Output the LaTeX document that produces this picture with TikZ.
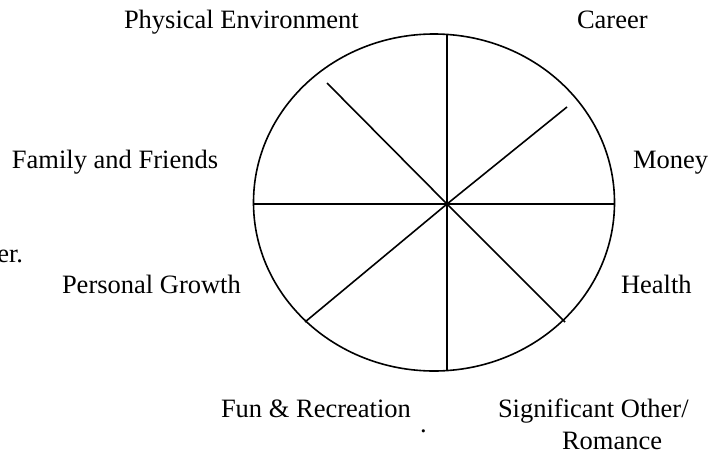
\documentclass[tikz,border=0pt]{standalone}
\usepackage{fontspec}
\setmainfont{Liberation Serif}
\begin{document}
\begin{tikzpicture}[x=1pt,y=-1pt,
  lbl/.style={anchor=base west,inner sep=0pt,outer sep=0pt,font=\fontsize{26.5}{30}\selectfont},
  wline/.style={line width=1.6pt,black}]
\useasboundingbox (0,0) rectangle (723,455);
% wheel
\draw[wline] (434,202.5) ellipse [x radius=180.5,y radius=168.5];
\coordinate (c) at (447,204);
\coordinate (top) at (447,34);
\coordinate (bot) at (447,371);
\coordinate (lft) at (254,204);
\coordinate (rgt) at (615,204);
\coordinate (ul) at (327,83);
\coordinate (ur) at (567,107);
\coordinate (ll) at (305,322);
\coordinate (lr) at (565,322);
\foreach \p in {top,bot,lft,rgt,ul,ur,ll,lr}{\draw[wline] (c) -- (\p);}
% labels
\node[lbl] (phys) at (124,28) {Physical Environment};
\node[lbl] (career) at (577,28) {Career};
\node[lbl] (family) at (12,168) {Family and Friends};
\node[lbl] (money) at (633,168) {Money};
\node[lbl,anchor=base east] (er) at (23,262) {er.};
\node[lbl] (growth) at (62,293) {Personal Growth};
\node[lbl] (health) at (621,293) {Health};
\node[lbl] (fun) at (221,417) {Fun \& Recreation};
\node[lbl] (sig) at (498,417) {Significant Other/};
\node[lbl] (rom) at (562,449) {Romance};
\node[lbl] (dot) at (420,432) {.};
\end{tikzpicture}
\end{document}
